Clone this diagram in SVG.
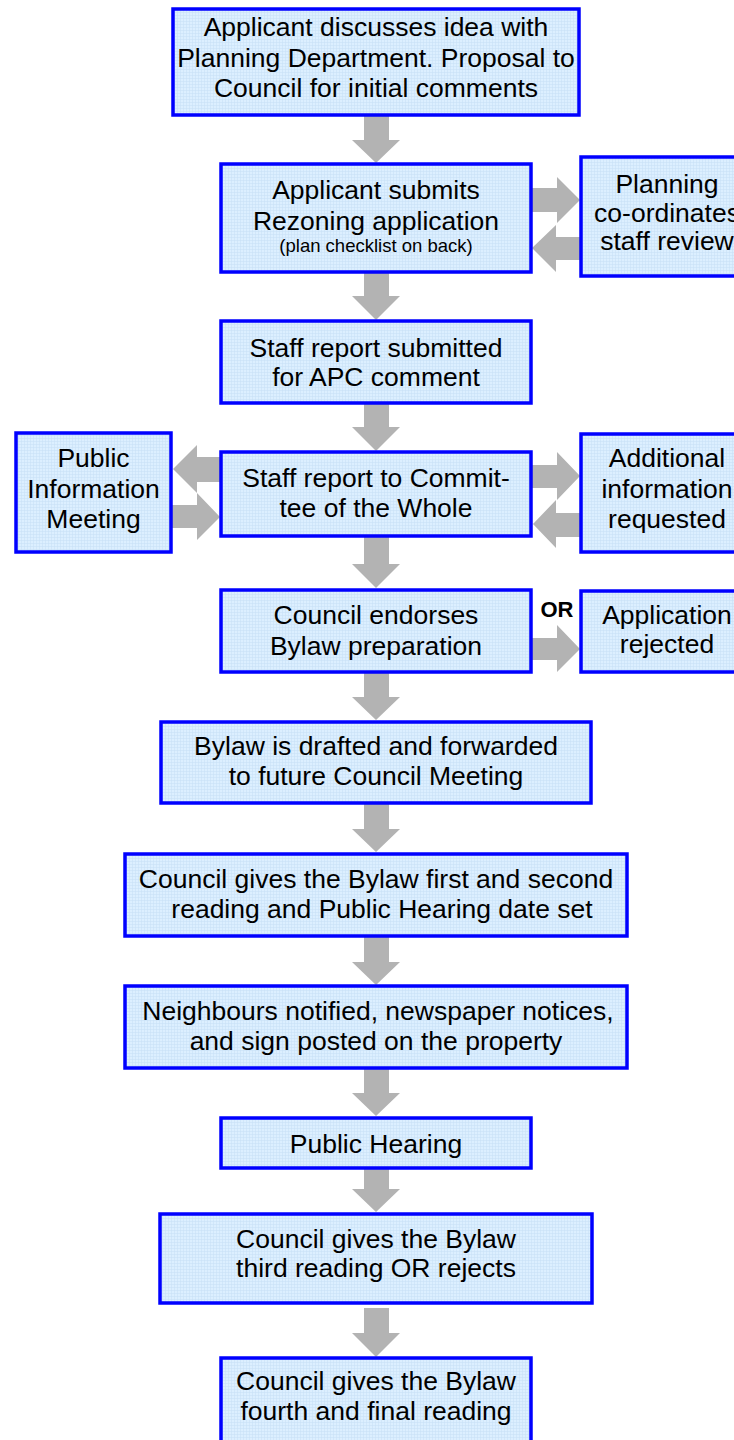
<svg xmlns="http://www.w3.org/2000/svg" width="734" height="1440" viewBox="0 0 734 1440">
<defs>
<pattern id="grid" width="3" height="3" patternUnits="userSpaceOnUse">
<rect width="3" height="3" fill="#dcefff"/>
<path d="M0 0.5H3M0.5 0V3" stroke="#c9e1f7" stroke-width="0.6" fill="none"/>
</pattern>
</defs>
<style>
.box{fill:url(#grid);stroke:#0000ff;stroke-width:3.5}
.t{font-family:"Liberation Sans",Arial,sans-serif;font-size:26.5px;fill:#000;text-anchor:middle}
.s{font-size:18.5px}
.b{font-weight:bold;font-size:22px}
.arr{fill:#b3b3b3}
</style>
<rect width="734" height="1440" fill="#ffffff"/>
<g id="connectors">
<path class="arr" d="M364 115H389V140H400L376 163L352 140H364Z"/>
<path class="arr" d="M364 272H389V296H400L376 320L352 296H364Z"/>
<path class="arr" d="M364 403H389V427H400L376 451L352 427H364Z"/>
<path class="arr" d="M364 536H389V564H400L376 588L352 564H364Z"/>
<path class="arr" d="M364 672H389V697H400L376 720L352 697H364Z"/>
<path class="arr" d="M364 803H389V829H400L376 852L352 829H364Z"/>
<path class="arr" d="M364 936H389V962H400L376 985L352 962H364Z"/>
<path class="arr" d="M364 1068H389V1093H400L376 1116L352 1093H364Z"/>
<path class="arr" d="M364 1168H389V1189H400L376 1212L352 1189H364Z"/>
<path class="arr" d="M364 1308H389V1333H400L376 1357L352 1333H364Z"/>
<path class="arr" d="M532 188H557V177L580 200L557 223V212H532Z"/>
<path class="arr" d="M581 237H556V225L532 248L556 272V260H581Z"/>
<path class="arr" d="M221 457H197V445L173 469L197 493V482H221Z"/>
<path class="arr" d="M171 505H197V493L220 517L197 540V528H171Z"/>
<path class="arr" d="M532 465H557V452L580 476L557 500V488H532Z"/>
<path class="arr" d="M581 513H556V500L533 524L556 548V537H581Z"/>
<path class="arr" d="M532 638H557V625L580 649L557 672V660H532Z"/>
<text class="t b" x="557" y="617">OR</text>
</g>
<g id="n1"><rect class="box" x="173" y="9" width="406" height="106"/>
<text class="t" x="376" y="36">Applicant discusses idea with</text>
<text class="t" x="376" y="67">Planning Department. Proposal to</text>
<text class="t" x="376" y="97">Council for initial comments</text></g>
<g id="n2"><rect class="box" x="221" y="164" width="310" height="108"/>
<text class="t" x="376" y="199">Applicant submits</text>
<text class="t" x="376" y="230">Rezoning application</text>
<text class="t s" x="376" y="252">(plan checklist on back)</text></g>
<g id="n3"><rect class="box" x="581" y="157" width="172" height="119"/>
<text class="t" x="667" y="193">Planning</text>
<text class="t" x="667" y="222">co-ordinates</text>
<text class="t" x="667" y="250">staff review</text></g>
<g id="n4"><rect class="box" x="221" y="321" width="310" height="82"/>
<text class="t" x="376" y="357">Staff report submitted</text>
<text class="t" x="376" y="386">for APC comment</text></g>
<g id="n5"><rect class="box" x="221" y="452" width="310" height="84"/>
<text class="t" x="376" y="487">Staff report to Commit-</text>
<text class="t" x="376" y="517">tee of the Whole</text></g>
<g id="n6"><rect class="box" x="16" y="433" width="155" height="119"/>
<text class="t" x="93.5" y="467">Public</text>
<text class="t" x="93.5" y="498">Information</text>
<text class="t" x="93.5" y="528">Meeting</text></g>
<g id="n7"><rect class="box" x="581" y="434" width="172" height="118"/>
<text class="t" x="667" y="467">Additional</text>
<text class="t" x="667" y="498">information</text>
<text class="t" x="667" y="528">requested</text></g>
<g id="n8"><rect class="box" x="221" y="590" width="310" height="82"/>
<text class="t" x="376" y="624">Council endorses</text>
<text class="t" x="376" y="655">Bylaw preparation</text></g>
<g id="n9"><rect class="box" x="581" y="591" width="172" height="81"/>
<text class="t" x="667" y="624">Application</text>
<text class="t" x="667" y="653">rejected</text></g>
<g id="n10"><rect class="box" x="161" y="722" width="430" height="81"/>
<text class="t" x="376" y="755">Bylaw is drafted and forwarded</text>
<text class="t" x="376" y="785">to future Council Meeting</text></g>
<g id="n11"><rect class="box" x="125" y="854" width="502" height="82"/>
<text class="t" x="376" y="888">Council gives the Bylaw first and second</text>
<text class="t" x="382" y="918">reading and Public Hearing date set</text></g>
<g id="n12"><rect class="box" x="125" y="986" width="502" height="82"/>
<text class="t" x="378" y="1020">Neighbours notified, newspaper notices,</text>
<text class="t" x="376" y="1050">and sign posted on the property</text></g>
<g id="n13"><rect class="box" x="221" y="1118" width="310" height="50"/>
<text class="t" x="376" y="1153">Public Hearing</text></g>
<g id="n14"><rect class="box" x="160" y="1214" width="432" height="89"/>
<text class="t" x="376" y="1248">Council gives the Bylaw</text>
<text class="t" x="376" y="1277">third reading OR rejects</text></g>
<g id="n15"><rect class="box" x="221" y="1358" width="310" height="100"/>
<text class="t" x="376" y="1390">Council gives the Bylaw</text>
<text class="t" x="376" y="1420">fourth and final reading</text></g>
</svg>
